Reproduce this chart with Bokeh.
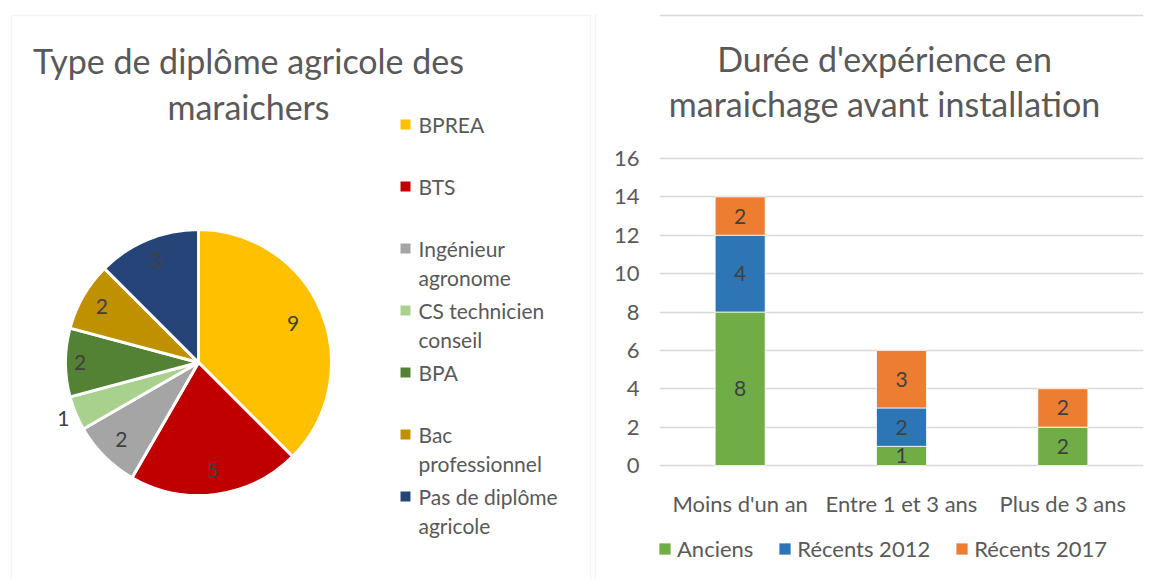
import math
from bokeh.plotting import figure
from bokeh.models import Range1d, FactorRange, Label, Legend, LegendItem, FixedTicker, BoxAnnotation, Span
from bokeh.layouts import row
from bokeh.embed import file_html
from bokeh.resources import INLINE
from bokeh.core.properties import value

# ---------------- data ----------------
pie_categories = ["BPREA", "BTS", "Ingénieur agronome", "CS technicien conseil",
                  "BPA", "Bac professionnel", "Pas de diplôme agricole"]
pie_legend_labels = ["BPREA", "BTS", "Ingénieur\nagronome", "CS technicien\nconseil",
                     "BPA", "Bac\nprofessionnel", "Pas de diplôme\nagricole"]
pie_values = [9, 5, 2, 1, 2, 2, 3]
pie_colors = ["#FFC000", "#C00000", "#A5A5A5", "#A9D18E", "#548235", "#BF9000", "#264478"]

bar_categories = ["Moins d'un an", "Entre 1 et 3 ans", "Plus de 3 ans"]
series_names = ["Anciens", "Récents 2012", "Récents 2017"]
anciens = [8, 1, 2]
recents_2012 = [4, 2, 0]
recents_2017 = [2, 3, 2]
series_colors = ["#70AD47", "#2E75B6", "#ED7D31"]
y_ticks = [0, 2, 4, 6, 8, 10, 12, 14, 16]

FONT = "Lato"
TXT = "#595959"
LBL = "#404040"
BORDER = "#D9D9D9"
H = 580

# ---------------- left panel: pie ----------------
W1, H1 = 597, H
p1 = figure(width=W1, height=H1, x_range=Range1d(0, W1), y_range=Range1d(0, H1),
            x_axis_location=None, y_axis_location=None, toolbar_location=None,
            output_backend="svg", min_border=0, outline_line_color=None)
p1.grid.visible = False

def X1(x):
    return x

def Y1(y):
    return H1 - y

# panel frames (left panel, and the left edge of the right panel)
p1.add_layout(BoxAnnotation(left=X1(11), right=X1(590), top=Y1(15), bottom=-10,
                            fill_alpha=0, line_color=BORDER, line_width=1.5))
p1.add_layout(BoxAnnotation(left=X1(595), right=X1(700), top=Y1(15), bottom=-10,
                            fill_alpha=0, line_color=BORDER, line_width=1.5))

cx, cy, r = X1(198), Y1(362), 133
total = sum(pie_values)
starts, ends, mids = [], [], []
cum = 0
for v in pie_values:
    a0 = math.pi / 2 - 2 * math.pi * cum / total
    a1 = math.pi / 2 - 2 * math.pi * (cum + v) / total
    starts.append(a1)
    ends.append(a0)
    mids.append(math.pi / 2 - 2 * math.pi * (cum + v / 2) / total)
    cum += v

p1.wedge(x=[cx] * len(pie_values), y=[cy] * len(pie_values), radius=r,
         start_angle=starts, end_angle=ends, direction="anticlock",
         fill_color=pie_colors, line_color="white", line_width=3)

label_frac = [0.77, 0.82, 0.82, 1.1, 0.89, 0.84, 0.83]
lx = [cx + f * r * math.cos(m) for f, m in zip(label_frac, mids)]
ly = [cy + f * r * math.sin(m) for f, m in zip(label_frac, mids)]
p1.text(x=lx, y=ly, text=[str(v) for v in pie_values], text_font=value(FONT),
        text_font_size="21px", text_color=LBL, text_align="center", text_baseline="middle")

p1.text(x=[X1(248), X1(248)], y=[Y1(60), Y1(106)],
        text=["Type de diplôme agricole des", "maraichers"], text_font=value(FONT),
        text_font_size="34px", text_color=TXT, text_align="center", text_baseline="alphabetic")

leg_y = [Y1(124 + 62 * i) for i in range(len(pie_categories))]
p1.rect(x=[X1(405)] * len(pie_categories), y=leg_y, width=10, height=10,
        fill_color=pie_colors, line_color=None)
p1.text(x=[X1(418)] * len(pie_categories), y=[yy + 13 for yy in leg_y], text=pie_legend_labels,
        text_font=value(FONT), text_font_size="21px", text_color=TXT,
        text_align="left", text_baseline="top", text_line_height=1.17)

# ---------------- right panel: stacked bars ----------------
W2, H2 = 557, H
PLOT_TOP, PLOT_BOTTOM, PLOT_LEFT, PLOT_RIGHT = 158, 465, 659, 1143   # page pixels
ppu = (PLOT_BOTTOM - PLOT_TOP) / 16.0                             # px per y unit
ppx = (PLOT_RIGHT - PLOT_LEFT) / len(bar_categories)              # px per category
y_hi = 16 + PLOT_TOP / ppu
y_lo = -(H2 - PLOT_BOTTOM) / ppu

p2 = figure(width=W2, height=H2, x_range=FactorRange(*bar_categories), y_range=Range1d(y_lo, y_hi),
            x_axis_location=None, toolbar_location=None, output_backend="svg",
            min_border_left=PLOT_LEFT - W1, min_border_right=W1 + W2 - PLOT_RIGHT,
            min_border_top=0, min_border_bottom=0, outline_line_color=None)
p2.xgrid.visible = False

# top edge of the right panel frame
p2.add_layout(Span(location=16 + (PLOT_TOP - 15) / ppu, dimension="width",
                   line_color=BORDER, line_width=1.5))

data = {"cat": bar_categories, "Anciens": anciens, "Récents 2012": recents_2012,
        "Récents 2017": recents_2017}
rs = p2.vbar_stack(series_names, x="cat", width=0.31, source=data, fill_color=series_colors,
                   line_color="white", line_width=0.75)

tx, ty, tt = [], [], []
base = [0] * len(bar_categories)
for vals in (anciens, recents_2012, recents_2017):
    for i, v in enumerate(vals):
        if v > 0:
            tx.append(bar_categories[i])
            ty.append(base[i] + v / 2)
            tt.append(str(v))
        base[i] += v
p2.text(x=tx, y=ty, text=tt, text_font=value(FONT), text_font_size="21px",
        text_color=LBL, text_align="center", text_baseline="middle")

# category labels under the bars
p2.text(x=bar_categories, y=[-(503 - PLOT_BOTTOM) / ppu] * len(bar_categories), text=bar_categories,
        text_font=value(FONT), text_font_size="22px", text_color=TXT,
        text_align="center", text_baseline="alphabetic")

p2.ygrid.grid_line_color = BORDER
p2.ygrid.grid_line_width = 1.5
p2.yaxis.ticker = FixedTicker(ticks=y_ticks)
p2.yaxis.axis_line_color = None
p2.yaxis.major_tick_line_color = None
p2.yaxis.minor_tick_line_color = None
p2.yaxis.major_tick_out = 0
p2.yaxis.major_tick_in = 0
p2.yaxis.major_label_standoff = 20
p2.yaxis.major_label_text_font = FONT
p2.yaxis.major_label_text_font_size = "22px"
p2.yaxis.major_label_text_color = TXT

legend = Legend(items=[LegendItem(label=n, renderers=[rr]) for n, rr in zip(series_names, rs)],
                orientation="horizontal", location=(-2, H2 - 562),
                label_text_font=FONT, label_text_font_size="22px", label_text_color=TXT,
                glyph_width=15, glyph_height=15, label_standoff=5, spacing=24,
                border_line_color=None, background_fill_alpha=0, margin=0, padding=0)
p2.add_layout(legend)

title_x = (884 - PLOT_LEFT) / ppx
p2.add_layout(Label(x=title_x, y=16 + (PLOT_TOP - 58) / ppu, text="Durée d'expérience en",
                    text_font=FONT, text_font_size="34px", text_color=TXT, text_align="center",
                    text_baseline="alphabetic"))
p2.add_layout(Label(x=title_x, y=16 + (PLOT_TOP - 103) / ppu, text="maraichage avant installation",
                    text_font=FONT, text_font_size="34px", text_color=TXT, text_align="center",
                    text_baseline="alphabetic"))

layout = row(p1, p2)
open("out.html", "w").write(file_html(layout, INLINE))
